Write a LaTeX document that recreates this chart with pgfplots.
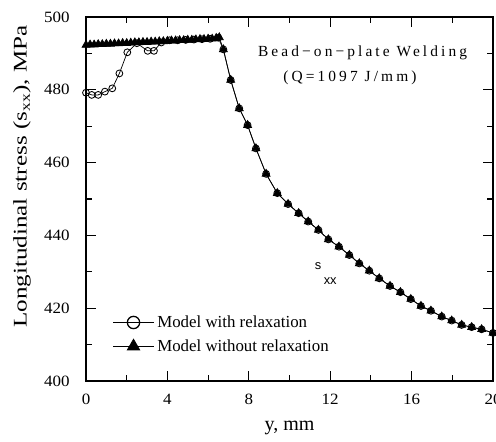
\documentclass[border=0pt]{standalone}
\usepackage{fontspec}
\setmainfont{Liberation Serif}
\setsansfont{Liberation Sans}
\newfontfamily\wideserif{Liberation Serif}[FakeStretch=1.3]
\newfontfamily\tickserif{Liberation Serif}[FakeStretch=1.08]
\newfontfamily\spacedserif{Liberation Serif}[LetterSpace=20]
\usepackage{pgfplots}
\pgfplotsset{compat=1.18}

\begin{document}
\begin{tikzpicture}
\begin{axis}[
  scale only axis, width=284.9pt, height=254.8pt,
  xmin=0, xmax=20, ymin=400, ymax=500,
  xtick={0,4,...,20}, minor xtick={2,6,...,18},
  ytick={400,420,...,500}, minor ytick={410,430,...,490},
  tick align=inside, major tick length=7pt, minor tick length=4pt,
  axis line style={line width=1pt},
  every tick/.style={black, line width=0.8pt},
  /pgf/number format/assume math mode=true,
  tick label style={font=\fontsize{11}{13}\tickserif},
  xticklabel style={yshift=-5.5pt},
  yticklabel style={xshift=-8pt},
  xlabel={y, mm},
  xlabel style={font=\fontsize{14}{16}\selectfont, at={(axis description cs:0.5,-0.128)}, anchor=center},
  ylabel={Longitudinal stress (s\textsubscript{xx}), MPa},
  ylabel style={font=\fontsize{13.5}{16}\wideserif, at={(axis description cs:-0.157,0.562)}, anchor=center},
  clip=false,
  legend cell align=left,
  legend style={at={(rel axis cs:0.065,0.128)}, anchor=west, draw=none, fill=none,
    font=\fontsize{11.8}{14}\selectfont, row sep=3pt, inner sep=0pt},
  legend image code/.code={\draw[mark repeat=2, mark phase=2, #1]
    plot coordinates {(0pt,0pt) (14.3pt,0pt) (28.7pt,0pt)};},
]
\addplot[black, line width=0.5pt, mark=o, mark size=2.4pt,
  mark options={fill=white, line width=0.6pt},
  legend image post style={mark size=4.3pt, mark options={fill=white, line width=0.9pt}}] coordinates {
  (0,479.2) (0.28,478.6) (0.6,478.6) (0.93,479.5) (1.29,480.4) (1.64,484.5)
  (2.03,490.3) (2.5,492.8) (3.03,490.7) (3.34,490.7) (3.7,493.0) (4.1,493.6)
  (4.5,493.6) (4.9,493.7) (5.3,493.8) (5.7,493.9) (6.1,494.0) (6.5,494.3)
  (6.75,491.1) (7.11,482.7) (7.53,474.9) (7.94,470.3) (8.35,463.9) (8.85,456.9)
  (9.40,451.6) (9.93,448.6) (10.45,446.1) (10.92,443.8) (11.42,441.5) (11.91,438.9)
  (12.43,436.9) (12.94,434.6) (13.43,432.3) (13.92,430.3) (14.41,428.2) (14.94,426.1)
  (15.45,424.4) (15.96,422.5) (16.46,420.6) (16.95,419.3) (17.48,417.7) (17.97,416.6)
  (18.46,415.4) (18.95,414.8) (19.44,414.2) (20,413.2)
};
\addlegendentry{Model with relaxation}
\addplot[black, line width=0.5pt, mark=triangle*, mark size=3.2pt,
  legend image post style={mark size=5pt}] coordinates {
  (0,492.3) (0.2,492.4) (0.4,492.4) (0.6,492.5) (0.8,492.5) (1.0,492.6)
  (1.2,492.6) (1.4,492.7) (1.6,492.7) (1.8,492.8) (2.0,492.8) (2.2,492.9)
  (2.4,493.0) (2.6,493.0) (2.8,493.1) (3.0,493.1) (3.2,493.2) (3.4,493.2)
  (3.6,493.3) (3.8,493.3) (4.0,493.4) (4.2,493.5) (4.4,493.5) (4.6,493.6)
  (4.8,493.6) (5.0,493.7) (5.2,493.7) (5.4,493.8) (5.6,493.9) (5.8,493.9)
  (6.0,494.0) (6.2,494.0) (6.4,494.2) (6.55,494.4)
  (6.75,491.1) (7.11,482.7) (7.53,474.9) (7.94,470.3) (8.35,463.9) (8.85,456.9)
  (9.40,451.6) (9.93,448.6) (10.45,446.1) (10.92,443.8) (11.42,441.5) (11.91,438.9)
  (12.43,436.9) (12.94,434.6) (13.43,432.3) (13.92,430.3) (14.41,428.2) (14.94,426.1)
  (15.45,424.4) (15.96,422.5) (16.46,420.6) (16.95,419.3) (17.48,417.7) (17.97,416.6)
  (18.46,415.4) (18.95,414.8) (19.44,414.2) (20,413.2)
};
\addlegendentry{Model without relaxation}
\node[font=\fontsize{10.8}{12}\spacedserif] at (axis cs:13.59,490.1) {Bead−on−plate Welding};
\node[font=\fontsize{10.8}{12}\spacedserif] at (axis cs:12.97,483.2) {(Q=1097 J/mm)};
\node[font=\fontsize{9}{10}\sffamily] at (axis cs:11.4,431.6) {s};
\node[font=\fontsize{9}{10}\sffamily] at (axis cs:12.0,427.5) {xx};
\coordinate (sw) at (rel axis cs:0,0);
\end{axis}
\pgfresetboundingbox
\path[use as bounding box] ([shift={(-60.2pt,-42pt)}]sw) rectangle ++(347.2pt,308.7pt);
\end{tikzpicture}
\end{document}
